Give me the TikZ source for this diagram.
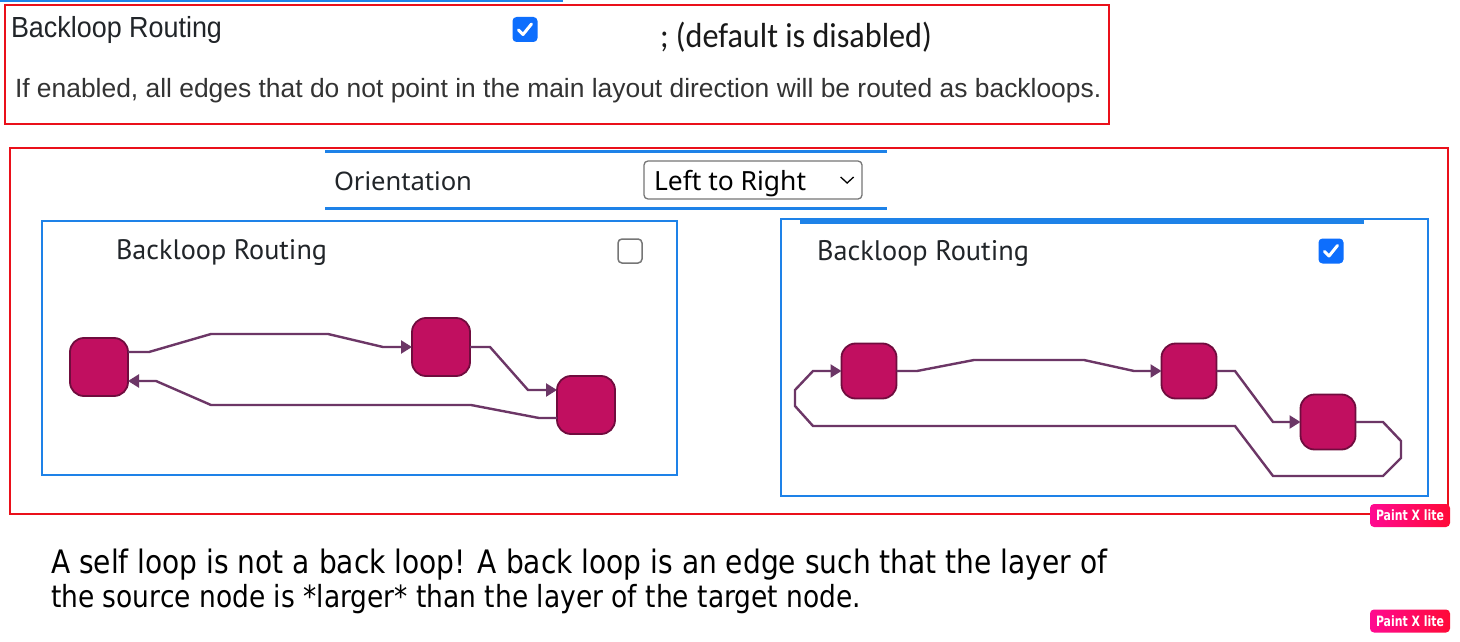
\documentclass[tikz,border=0pt]{standalone}
\usepackage{fontspec}
\setmainfont{Liberation Sans}
\newfontfamily\uifont{Noto Sans}
\newfontfamily\ptfont{PT Sans}
\newfontfamily\calfont{Carlito}
\newfontfamily\dvfont{DejaVu Sans}
\usetikzlibrary{arrows.meta,calc}
\definecolor{uiblue}{RGB}{30,130,232}
\definecolor{redbox}{RGB}{234,16,26}
\definecolor{chkblue}{RGB}{13,110,253}
\definecolor{txt}{RGB}{33,37,41}
\definecolor{txtgray}{RGB}{51,51,51}
\definecolor{nodefill}{RGB}{193,15,96}
\definecolor{nodedraw}{RGB}{112,12,62}
\definecolor{edgecol}{RGB}{108,54,102}
\definecolor{pxpink}{RGB}{255,10,145}
\definecolor{pxred}{RGB}{255,10,55}
\definecolor{selgray}{RGB}{118,118,118}
\newcommand\fitw[2]{\resizebox{#1pt}{!}{#2}}
\begin{document}
\begin{tikzpicture}[x=1pt,y=-1pt,
  txtnode/.style={anchor=base west, inner sep=0pt, outer sep=0pt},
  gnode/.style={draw=nodedraw, fill=nodefill, line width=1.8pt, rounded corners=14pt,
    minimum width=#1, minimum height=#1, inner sep=0pt, outer sep=0pt},
  edge/.style={draw=edgecol, line width=2.4pt, line join=miter,
    -{Triangle[length=11pt,width=13pt]}},
  chkon/.style={fill=chkblue, rounded corners=4pt, minimum size=25pt, inner sep=0pt},
  chkoff/.style={draw=selgray, line width=1.5pt, fill=white, rounded corners=4pt, minimum size=24pt, inner sep=0pt},
  tick/.style={draw=white, line width=3pt, line cap=round, line join=round},
  redframe/.style={draw=redbox, line width=2pt},
  panel/.style={draw=uiblue, line width=1.6pt},
  badge/.style={rounded corners=4pt, left color=pxpink, right color=pxred, minimum width=80pt, minimum height=23pt, inner sep=0pt, text=white},
]
\useasboundingbox (0,0) rectangle (1460,642);
\fill[white] (0,0) rectangle (1460,642);

% ---------- top block ----------
\fill[uiblue] (0,0) rectangle (563,2.5);
\draw[redframe] (5,5) rectangle (1109,124);
\node[txtnode, text=txt] (t1) at (11,38) {\fitw{211}{\scalebox{1}[1.08]{Backloop Routing}}};
\node[chkon] (c1) at (525,29.5) {};
\draw[tick] ($(c1.center)+(-6.5,0.5)$) -- ($(c1.center)+(-2,5)$) -- ($(c1.center)+(6.5,-5.5)$);
\node[txtnode, text=black!90] (t2) at (660,47.5) {\fitw{272}{\calfont\scalebox{1}[1.08]{; (default is disabled)}}};
\node[txtnode, text=txtgray] (t3) at (15,98) {\fitw{1086}{If enabled, all edges that do not point in the main layout direction will be routed as backloops.}};

% ---------- second block ----------
\draw[redframe] (10,148) rectangle (1448,514);
\fill[uiblue] (325,149.5) rectangle (887,152.5);
\fill[uiblue] (325,206.5) rectangle (887,209.5);
\node[txtnode, text=txt] (orient) at (334,190) {\fitw{138}{\uifont Orientation}};
\node[draw=selgray, line width=1.3pt, rounded corners=4pt, minimum width=218pt, minimum height=38pt, inner sep=0pt] (sel) at (753,180) {};
\node[txtnode, text=black] (selt) at (654,190) {\fitw{152}{\uifont Left to Right}};
\draw[black, line width=1.3pt] ($(sel.east)+(-22,-3)$) -- ($(sel.east)+(-15.5,3)$) -- ($(sel.east)+(-9,-3)$);

% left panel
\draw[panel] (42,221) rectangle (677,475);
\node[txtnode, text=txt] (lt) at (116,259.5) {\fitw{211}{\ptfont Backloop Routing}};
\node[chkoff] (c2) at (630,251) {};
\node[gnode=58pt] (A) at (99,367) {};
\node[gnode=58pt] (B) at (441,347) {};
\node[gnode=58pt] (C) at (586,405) {};
\draw[edge] ([yshift=15pt]A.east) -- (149,352) -- (211,334) -- (328,334) -- (383,347) -- (B.west);
\draw[edge] (B.east) -- (490,347) -- (528,390) -- ([yshift=15pt]C.west);
\draw[edge] ([yshift=-13pt]C.west) -- (539,418) -- (471,405) -- (211,405) -- (156,381) -- ([yshift=-14pt]A.east);

% right panel
\draw[panel] (781,219) rectangle (1428,496);
\fill[uiblue] (800,219) rectangle (1364,223.5);
\node[txtnode, text=txt] (rt) at (817,260.5) {\fitw{212}{\ptfont Backloop Routing}};
\node[chkon] (c3) at (1331,251) {};
\draw[tick] ($(c3.center)+(-6.5,0.5)$) -- ($(c3.center)+(-2,5)$) -- ($(c3.center)+(6.5,-5.5)$);
\node[gnode=55pt] (D) at (869,371) {};
\node[gnode=55pt] (E) at (1189,371) {};
\node[gnode=55pt] (F) at (1328,422) {};
\draw[edge] (D.east) -- (917,371) -- (974,360) -- (1084,360) -- (1134,371) -- (E.west);
\draw[edge] (E.east) -- (1235,371) -- (1273,422) -- (F.west);
\draw[edge] (F.east) -- (1383,422) -- (1401,441) -- (1401,458) -- (1383,476) -- (1273,476) -- (1235,426) -- (813,426) -- (795,406) -- (795,390) -- (813,371) -- (D.west);

% ---------- bottom text ----------
\node[txtnode, text=black] (b1) at (51,573) {\fitw{1056}{\dvfont\scalebox{1}[1.15]{A self loop is not a back loop! A back loop is an edge such that the layer of}}};
\node[txtnode, text=black] (b2) at (51,607) {\fitw{810}{\dvfont\scalebox{1}[1.15]{the source node is *larger* than the layer of the target node.}}};

% ---------- badges ----------
\node[badge] (px1) at (1410,515.5) {\fitw{68}{\dvfont\bfseries\scalebox{1}[1.3]{Paint X lite}}};
\node[badge] (px2) at (1410,621) {\fitw{68}{\dvfont\bfseries\scalebox{1}[1.3]{Paint X lite}}};
\end{tikzpicture}
\end{document}
